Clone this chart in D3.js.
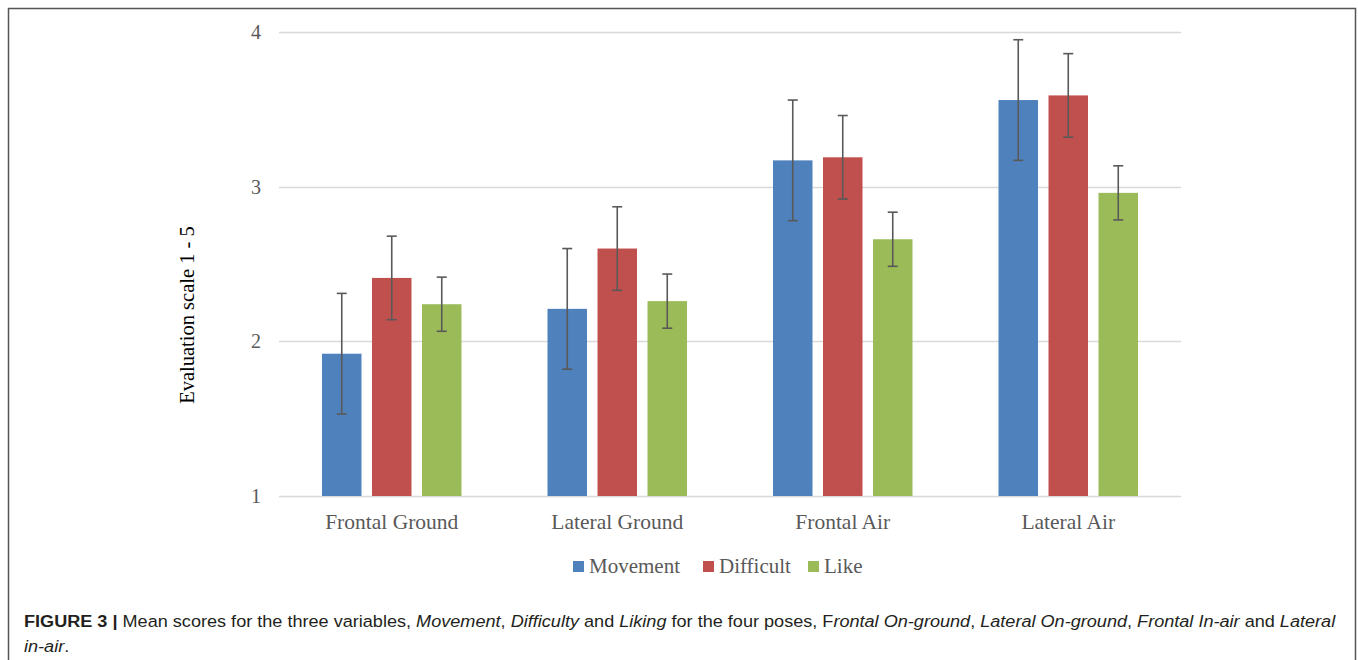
<!DOCTYPE html>
<html>
<head>
<meta charset="utf-8">
<script src="https://cdn.jsdelivr.net/npm/d3@7"></script>
<style>
  body { margin: 0; background: #fff; }
  svg { display: block; }
</style>
</head>
<body>
<div class="chart"></div>
<script>
// poses on the x axis
const poses = ['Frontal Ground', 'Lateral Ground', 'Frontal Air', 'Lateral Air']
const seriesNames = ['Movement', 'Difficult', 'Like']
const seriesColors = ['#4f81bd', '#c0504d', '#9bbb59']

// means per series, one value per pose
const movement = [1.92, 2.21, 3.17, 3.56]
const difficult = [2.41, 2.60, 3.19, 3.59]
const like = [2.24, 2.26, 2.66, 2.96]

// error bar half widths
const movementErr = [0.39, 0.39, 0.39, 0.39]
const difficultErr = [0.27, 0.27, 0.27, 0.27]
const likeErr = [0.175, 0.175, 0.175, 0.175]

const yTicks = [1, 2, 3, 4]

const width = 1358
const height = 660
const margin = {top: 32, right: 177, bottom: 164, left: 279}

const values = [movement, difficult, like]
const errs = [movementErr, difficultErr, likeErr]
const rows = []
poses.forEach((p, i) => {
  seriesNames.forEach((s, j) => {
    rows.push({pose: p, series: s, val: values[j][i], err: errs[j][i], k: j})
  })
})

const svg = d3.select('.chart').append('svg')
  .attr('width', width)
  .attr('height', height)

// outer frame
svg.append('path')
  .attr('d', `M8.5,${height} V8.5 H1355.5 V${height}`)
  .attr('fill', 'none')
  .attr('stroke', '#555')
  .attr('stroke-width', 1.5)

const x0 = d3.scaleBand()
  .domain(poses)
  .range([margin.left, width - margin.right])

const groupW = 139.5
const x1 = d3.scaleBand()
  .domain(seriesNames)
  .range([0, groupW])
  .paddingInner(0.21)
  .paddingOuter(0)

const y = d3.scaleLinear()
  .domain([1, 4])
  .range([height - margin.bottom, margin.top])

const color = d3.scaleOrdinal().domain(seriesNames).range(seriesColors)

const serif = "'Liberation Serif', 'DejaVu Serif', serif"

// gridlines
svg.append('g')
  .selectAll('line')
  .data(yTicks)
  .enter()
  .append('line')
  .attr('x1', margin.left)
  .attr('x2', width - margin.right)
  .attr('y1', d => Math.round(y(d)) + 0.5)
  .attr('y2', d => Math.round(y(d)) + 0.5)
  .attr('stroke', '#d9d9d9')
  .attr('stroke-width', 1.5)

// y axis labels
const yAxis = svg.append('g')
  .attr('transform', `translate(${margin.left - 15},0)`)
  .call(d3.axisLeft(y).tickValues(yTicks).tickSize(0).tickFormat(d3.format('d')))
yAxis.select('.domain').remove()
yAxis.selectAll('text')
  .attr('font-family', serif)
  .attr('font-size', '20px')
  .attr('fill', '#595959')

svg.append('text')
  .attr('transform', `translate(194, ${y(2.17)}) rotate(-90)`)
  .attr('text-anchor', 'middle')
  .attr('font-family', serif)
  .attr('font-size', '20.5px')
  .attr('fill', '#000')
  .text('Evaluation scale 1 - 5')

// bars
const off = (x0.bandwidth() - groupW) / 2
svg.append('g')
  .selectAll('rect')
  .data(rows)
  .enter()
  .append('rect')
  .attr('x', d => x0(d.pose) + off + x1(d.series))
  .attr('width', x1.bandwidth())
  .attr('y', d => y(d.val))
  .attr('height', d => y(1) - y(d.val))
  .attr('fill', d => color(d.series))

// error bars
const eb = svg.append('g')
  .attr('stroke', '#595959')
  .attr('stroke-width', 1.6)
  .selectAll('g')
  .data(rows)
  .enter()
  .append('g')
  .attr('transform', d => `translate(${x0(d.pose) + off + x1(d.series) + x1.bandwidth() / 2},0)`)
eb.append('line')
  .attr('y1', d => y(d.val + d.err))
  .attr('y2', d => y(d.val - d.err))
eb.append('line')
  .attr('x1', -5).attr('x2', 5)
  .attr('y1', d => y(d.val + d.err))
  .attr('y2', d => y(d.val + d.err))
eb.append('line')
  .attr('x1', -5).attr('x2', 5)
  .attr('y1', d => y(d.val - d.err))
  .attr('y2', d => y(d.val - d.err))

// x labels
svg.append('g')
  .selectAll('text')
  .data(poses)
  .enter()
  .append('text')
  .attr('x', d => x0(d) + x0.bandwidth() / 2)
  .attr('y', 529)
  .attr('text-anchor', 'middle')
  .attr('font-family', serif)
  .attr('font-size', '21.5px')
  .attr('fill', '#595959')
  .text(d => d)

// legend
const legendX = [573, 703, 808]
const lg = svg.append('g')
  .selectAll('g')
  .data(seriesNames)
  .enter()
  .append('g')
  .attr('transform', (d, i) => `translate(${legendX[i]}, 561)`)
lg.append('rect')
  .attr('width', 11)
  .attr('height', 11)
  .attr('fill', d => color(d))
lg.append('text')
  .attr('x', 16)
  .attr('y', 12)
  .attr('font-family', serif)
  .attr('font-size', '21px')
  .attr('fill', '#595959')
  .text(d => d)

// caption
const caption1 = [
  ['FIGURE 3 | ', 'b'],
  ['Mean scores for the three variables, ', 'n'],
  ['Movement', 'i'], [', ', 'n'], ['Difficulty', 'i'], [' and ', 'n'], ['Liking', 'i'],
  [' for the four poses, F', 'n'], ['rontal On-ground', 'i'], [', ', 'n'],
  ['Lateral On-ground', 'i'], [', ', 'n'], ['Frontal In-air', 'i'], [' and ', 'n'], ['Lateral', 'i']
]
const caption2 = [['in-air', 'i'], ['.', 'n']]

function captionLine(parts) {
  const t = svg.append('text')
    .attr('x', 0)
    .attr('y', 0)
    .attr('font-family', "'Liberation Sans', Arial, sans-serif")
    .attr('font-size', '17px')
    .attr('fill', '#231f20')
  t.selectAll('tspan')
    .data(parts)
    .enter()
    .append('tspan')
    .attr('font-weight', d => d[1] === 'b' ? 'bold' : null)
    .attr('font-style', d => d[1] === 'i' ? 'italic' : null)
    .text(d => d[0])
  return t
}
const c1 = captionLine(caption1)
const w1 = c1.node().getComputedTextLength()
const sx = 1312 / w1
c1.attr('transform', `translate(24, 627) scale(${sx},1)`)
const c2 = captionLine(caption2)
c2.attr('transform', `translate(24, 652) scale(${sx},1)`)
</script>
</body>
</html>
